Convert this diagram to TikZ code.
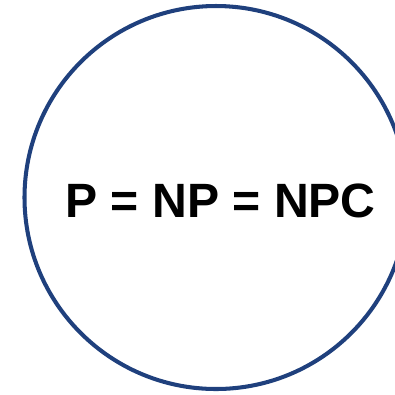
\documentclass[tikz,border=0pt]{standalone}
\usepackage{fontspec}
\setmainfont{Liberation Sans}
\usepackage{tikz}
\definecolor{setblue}{RGB}{31,64,125}
\tikzset{setline/.style={color=setblue,line width=1.15pt}}

\begin{document}
\begin{tikzpicture}
            \useasboundingbox (0,0) rectangle (3.95,3.94);
            \draw[setline] (2.16,1.965) circle (1.915);
            \node (eq) at (2.205,1.93) {\fontsize{13.7}{16}\selectfont\bfseries P = NP = NPC};
        \end{tikzpicture}
\end{document}
